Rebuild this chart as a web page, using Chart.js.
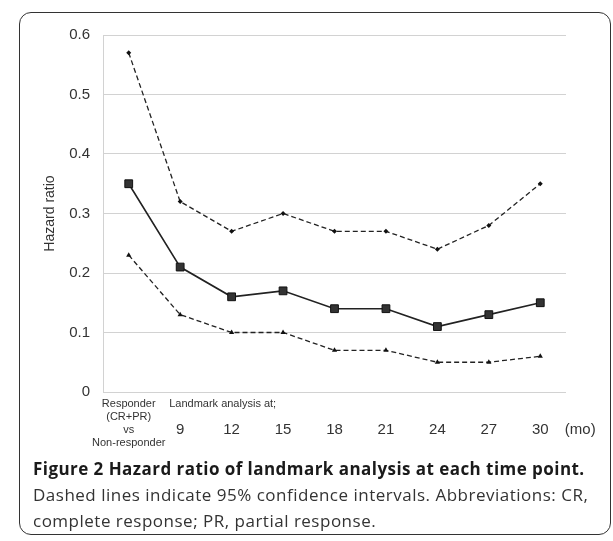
<!DOCTYPE html>
<html>
<head>
<meta charset="utf-8">
<script src="https://cdn.jsdelivr.net/npm/chart.js@4"></script>
<style>
  body { margin:0; background:#fff; width:613px; height:541px; overflow:hidden; position:relative; }
  #box { position:absolute; left:19px; top:12px; width:592px; height:523px; border:1.5px solid #333; border-radius:12px; box-sizing:border-box; }
  #chart { position:absolute; left:0; top:0; }
  #caption { position:absolute; left:33px; top:456px; font-family:"Open Sans", sans-serif; font-size:17px; letter-spacing:0.5px; line-height:26px; color:#333; white-space:nowrap; }
  #caption b { color:#1a1a1a; letter-spacing:0.45px; }
</style>
</head>
<body>
<div id="box"></div>
<canvas id="chart" width="613" height="460"></canvas>
<div id="caption"><b>Figure 2 Hazard ratio of landmark analysis at each time point.</b><br>Dashed lines indicate 95% confidence intervals. Abbreviations: CR,<br>complete response; PR, partial response.</div>
<script>
// data
const firstLabel = ["Responder","(CR+PR)","vs","Non-responder"];
const monthLabels = ["9","12","15","18","21","24","27","30"];
const hazardRatio = [0.35,0.21,0.16,0.17,0.14,0.14,0.11,0.13,0.15];
const upperCI = [0.57,0.32,0.27,0.30,0.27,0.27,0.24,0.28,0.35];
const lowerCI = [0.23,0.13,0.10,0.10,0.07,0.07,0.05,0.05,0.06];
const yTicks = [0,0.1,0.2,0.3,0.4,0.5,0.6];

const labels = [firstLabel].concat(monthLabels.map(m => ["","",m]));
const FONT = '"Liberation Sans", Arial, sans-serif';

// extra axis texts
const axisNotes = {
  id:"axisNotes",
  afterDraw(chart){
    const ctx = chart.ctx;
    const x = chart.scales.x;
    ctx.save();
    ctx.fillStyle = "#333";
    ctx.textBaseline = "middle";
    ctx.font = "11px " + FONT;
    ctx.textAlign = "left";
    ctx.fillText("Landmark analysis at;", x.getPixelForValue(1) - 11, 404);
    ctx.font = "15px " + FONT;
    ctx.textAlign = "center";
    ctx.fillText("(mo)", x.getPixelForValue(8) + 40, 430);
    ctx.restore();
  }
};

new Chart(document.getElementById("chart"), {
  type:"line",
  data:{
    labels: labels,
    datasets:[
      {data:upperCI, borderColor:"#222", borderWidth:1.3, borderDash:[5,3], pointStyle:"rectRot", pointRadius:2.5, pointBackgroundColor:"#111", pointBorderColor:"#111", pointBorderWidth:0},
      {data:hazardRatio, borderColor:"#222", borderWidth:1.6, pointStyle:"rect", pointRadius:5.5, pointBackgroundColor:"#333", pointBorderColor:"#111", pointBorderWidth:1},
      {data:lowerCI, borderColor:"#222", borderWidth:1.3, borderDash:[5,3], pointStyle:"triangle", pointRadius:3, pointBackgroundColor:"#111", pointBorderColor:"#111", pointBorderWidth:0}
    ]
  },
  options:{
    responsive:false,
    animation:false,
    devicePixelRatio:1,
    layout:{padding:{top:35, left:38, right:47, bottom:8}},
    plugins:{legend:{display:false}, tooltip:{enabled:false}},
    scales:{
      x:{
        offset:true,
        grid:{display:false, drawTicks:false},
        border:{display:false},
        ticks:{
          padding:5.5, color:"#333", maxRotation:0, autoSkip:false,
          font: c => c.index === 0 ? {family:FONT, size:11, lineHeight:"13px"} : {family:FONT, size:15, lineHeight:"13px"}
        },
        afterFit: s => { s.height = 60; }
      },
      y:{
        min:0, max:0.6,
        afterBuildTicks: s => { s.ticks = yTicks.map(v => ({value:v})); },
        grid:{color:"#d2d2d2", lineWidth:1, drawTicks:false},
        border:{display:true, color:"#d2d2d2"},
        ticks:{padding:13, color:"#333", font:{family:FONT, size:15}, callback: v => v === 0 ? "0" : v.toFixed(1)},
        title:{display:true, text:"Hazard ratio", color:"#333", font:{family:FONT, size:14}, padding:{top:4, bottom:4}},
        afterFit: s => { s.width = 65; }
      }
    }
  },
  plugins:[axisNotes]
});
</script>
</body>
</html>
